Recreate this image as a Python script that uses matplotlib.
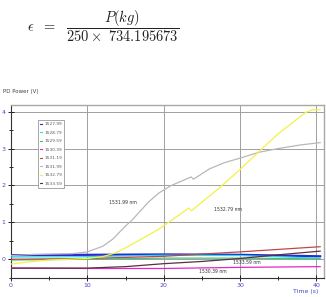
import matplotlib
matplotlib.use("Agg")
import matplotlib.pyplot as plt
from matplotlib.lines import Line2D

plt.rcParams['mathtext.fontset'] = 'cm'

# ---- data ----
wavelengths = ["1527.99", "1528.79", "1529.59", "1530.39",
               "1531.19", "1531.99", "1532.79", "1533.59"]
colors = ["#2a2ad0", "#30d8e8", "#3cc878", "#e028c8",
          "#c04848", "#b8b8b8", "#f2f246", "#5a3040"]

t_flat = [0, 10, 20, 30, 40.5]
v_1527 = [0.11, 0.12, 0.13, 0.12, 0.08]
v_1528 = [0.06, 0.07, 0.11, 0.10, 0.03]
v_1529 = [-0.02, 0.00, 0.03, 0.03, 0.01]
v_1530 = [-0.24, -0.25, -0.25, -0.22, -0.20]

t_1531r = [0, 10, 20, 30, 40.5]
v_1531r = [0.00, 0.02, 0.08, 0.20, 0.34]

t_gray = [0, 3, 8, 10, 12, 13.3, 15, 15.9, 18, 19.4, 21, 23.6, 23.9, 26, 28, 30, 32.5, 35, 38, 40.5]
v_gray = [0.10, 0.13, 0.15, 0.20, 0.35, 0.54, 0.90, 1.07, 1.55, 1.80, 2.00, 2.23, 2.17, 2.45, 2.62, 2.74, 2.90, 3.00, 3.10, 3.16]

t_yel = [0, 2, 5, 10, 12, 13.8, 16, 19.4, 21, 23.3, 23.6, 25.5, 27, 30, 32.9, 35, 38.6, 39.5, 40.5]
v_yel = [-0.13, -0.08, -0.02, 0.02, 0.07, 0.18, 0.42, 0.82, 1.05, 1.39, 1.31, 1.63, 1.88, 2.43, 3.00, 3.40, 3.98, 4.05, 4.05]

t_1533 = [0, 10, 15, 20, 25, 30, 35, 40.5]
v_1533 = [-0.24, -0.24, -0.20, -0.12, -0.06, 0.02, 0.12, 0.22]

series = [
    (t_flat, v_1527), (t_flat, v_1528), (t_flat, v_1529), (t_flat, v_1530),
    (t_1531r, v_1531r), (t_gray, v_gray), (t_yel, v_yel), (t_1533, v_1533),
]

x_ticks = [0, 10, 20, 30, 40]
y_ticks = [0, 1, 2, 3, 4]

# ---- figure ----
fig = plt.figure(figsize=(3.26, 2.97), dpi=100)

fig.text(27 / 326, 1 - 26 / 297,
         r'$\epsilon\ \ =\ \ \dfrac{P(kg)}{250\times\ 734.195673}$',
         fontsize=10.4, va='center', ha='left', color='#222222')

ax = fig.add_axes([11 / 326, 1 - 277.7 / 297, 313 / 326, (277.7 - 105) / 297])

for (t, v), c, lab in zip(series, colors, wavelengths):
    lw = 1.6 if c == "#2a2ad0" else 0.9
    ax.plot(t, v, color=c, lw=lw, zorder=3)

ax.set_xlim(0, 41)
ax.set_ylim(-0.48, 4.18)
ax.set_xticks(x_ticks)
ax.set_yticks(y_ticks)
ax.set_xticks([5, 15, 25, 35], minor=True)
ax.set_yticks([-0.5, 0.5, 1.5, 2.5, 3.5], minor=True)
ax.grid(True, which='major', color='#a0a0a0', lw=0.7)
ax.tick_params(axis='both', which='major', labelsize=4.5, labelcolor='#4848c8',
               length=4, width=0.6, direction='inout', pad=2)
ax.tick_params(axis='both', which='minor', length=3, width=0.6, direction='inout')
for s in ['left', 'bottom']:
    ax.spines[s].set_color('#333333')
    ax.spines[s].set_linewidth(0.8)
for s in ['top', 'right']:
    ax.spines[s].set_color('#a8a8a8')
    ax.spines[s].set_linewidth(1.0)

# annotations
ax.text(14.6, 1.54, "1531.99 nm", fontsize=3.3, color='#333333', ha='center', va='center')
ax.text(28.4, 1.35, "1532.79 nm", fontsize=3.3, color='#333333', ha='center', va='center')
ax.text(30.9, -0.08, "1533.59 nm", fontsize=3.3, color='#333333', ha='center', va='center')
ax.text(26.4, -0.32, "1530.39 nm", fontsize=3.3, color='#333333', ha='center', va='center')

fig.text(3 / 326, 1 - 91 / 297, "PD Power (V)", fontsize=4, color='#444444', va='center')
fig.text(318 / 326, 1 - 291 / 297, "Time (s)", fontsize=4.5, color='#4848c8',
         va='center', ha='right')

handles = [Line2D([0], [0], color=c, lw=0.8) for c in colors]
leg = ax.legend(handles, wavelengths, loc='upper left',
                bbox_to_anchor=((38 - 11) / 313, (277.7 - 120) / 172.7),
                fontsize=3.1, handlelength=0.4, handletextpad=0.5,
                labelspacing=1.05, borderpad=0.5, borderaxespad=0,
                frameon=True, fancybox=False,
                edgecolor='#999999', framealpha=1)
for txt in leg.get_texts():
    txt.set_color('#555555')
leg.get_frame().set_linewidth(0.6)

fig.savefig("out.png", dpi=100)
